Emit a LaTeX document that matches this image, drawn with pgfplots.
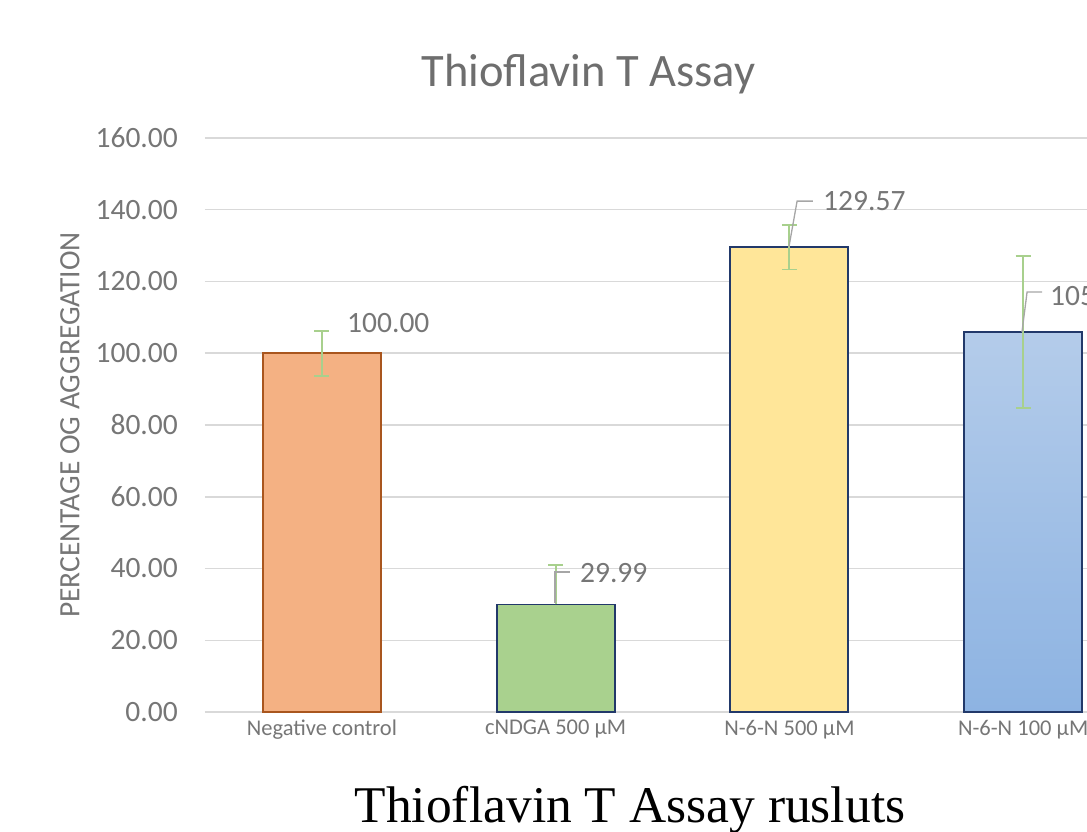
\documentclass[border=0pt]{standalone}
\usepackage{fontspec}
\setmainfont{Carlito}
\newfontfamily\capfont{Liberation Serif}
\usepackage{pgfplots}
\pgfplotsset{compat=1.18}
\definecolor{gridc}{HTML}{D9D9D9}
\definecolor{tickc}{HTML}{767676}
\definecolor{titlec}{HTML}{6E6E6E}
\definecolor{errg}{HTML}{A8D08D}
\definecolor{leadc}{HTML}{A6A6A6}
\definecolor{negfill}{HTML}{F4B183}
\definecolor{negedge}{HTML}{A9561E}
\definecolor{gfill}{HTML}{A9D18E}
\definecolor{yfill}{HTML}{FFE699}
\definecolor{btop}{HTML}{B4CCEA}
\definecolor{bbot}{HTML}{8DB3E2}
\definecolor{navy}{HTML}{22396A}
\begin{document}
\begin{tikzpicture}
\useasboundingbox (0,0) rectangle (1087pt,831pt);
\clip (0,0) rectangle (1087pt,831pt);
\begin{axis}[
  at={(205pt,119pt)}, anchor=south west,
  scale only axis, width=935pt, height=574pt,
  xmin=-0.5, xmax=3.5, ymin=0, ymax=160,
  ytick={0,20,...,160},
  xtick={0,1,2,3},
  xticklabels={Negative control, cNDGA 500 µM, N-6-N 500 µM, N-6-N 100 µM},
  axis line style={draw=none},
  major tick length=0pt,
  ymajorgrids, grid style={gridc, line width=1.5pt},
  /pgf/number format/.cd, fixed, fixed zerofill, precision=2, assume math mode=true,
  /pgfplots/.cd,
  yticklabel style={font=\fontsize{29.5}{33}\selectfont, text=tickc, anchor=east, inner sep=0pt, xshift=-27pt},
  xticklabel style={font=\fontsize{22.5}{26}\selectfont, text=tickc, anchor=north, inner sep=0pt, yshift=-8pt},
  ylabel={PERCENTAGE OG AGGREGATION},
  every axis y label/.style={at={(axis description cs:-0.1444,0.5)}, rotate=90, anchor=center, font=\fontsize{29.5}{33}\selectfont, text=tickc},
  bar width=118pt,
]
\addplot[ybar, bar shift=0pt, fill=negfill, draw=negedge, line width=1.8pt,
  error bars/.cd, y dir=both, y explicit,
  error bar style={errg, line width=1.8pt},
  error mark options={errg, line width=1.8pt, mark size=7.5pt, rotate=90}]
  coordinates {(0,100.00) +- (0,6.3)};
\addplot[ybar, bar shift=0pt, fill=gfill, draw=navy, line width=1.8pt,
  error bars/.cd, y dir=plus, y explicit,
  error bar style={errg, line width=1.8pt},
  error mark options={errg, line width=1.8pt, mark size=7.5pt, rotate=90}]
  coordinates {(1,29.99) +- (0,11.0)};
\addplot[ybar, bar shift=0pt, fill=yfill, draw=navy, line width=1.8pt,
  error bars/.cd, y dir=both, y explicit,
  error bar style={errg, line width=1.8pt},
  error mark options={errg, line width=1.8pt, mark size=7.5pt, rotate=90}]
  coordinates {(2,129.57) +- (0,6.2)};
\addplot[ybar, bar shift=0pt, top color=btop, bottom color=bbot, draw=navy, line width=1.8pt,
  error bars/.cd, y dir=both, y explicit,
  error bar style={errg, line width=1.8pt},
  error mark options={errg, line width=1.8pt, mark size=7.5pt, rotate=90}]
  coordinates {(3,105.92) +- (0,21.1)};
% leader lines
\draw[leadc, line width=1.3pt] (axis cs:0.997,30.4) -- (axis cs:0.997,39.0) -- (axis cs:1.061,39.0);
\draw[leadc, line width=1.3pt] (axis cs:1.998,129.6) -- (axis cs:2.033,142.4) -- (axis cs:2.100,142.4);
\draw[leadc, line width=1.3pt] (axis cs:2.995,105.9) -- (axis cs:3.017,117.1) -- (axis cs:3.081,117.1);
% data labels
\node[anchor=west, inner sep=0pt, font=\fontsize{29.5}{33}\selectfont, text=tickc] at (axis cs:0.1075,108.4) {100.00};
\node[anchor=west, inner sep=0pt, font=\fontsize{29.5}{33}\selectfont, text=tickc] at (axis cs:1.104,38.7) {29.99};
\node[anchor=west, inner sep=0pt, font=\fontsize{29.5}{33}\selectfont, text=tickc] at (axis cs:2.144,142.4) {129.57};
\node[anchor=west, inner sep=0pt, font=\fontsize{29.5}{33}\selectfont, text=tickc] at (axis cs:3.115,116.0) {105.92};
\end{axis}
\node[anchor=base, inner sep=0pt, font=\fontsize{46.5}{50}\selectfont, text=titlec] at (588.5pt,744pt) {Thioflavin T Assay};
\node[anchor=base, inner sep=0pt, font=\capfont\fontsize{51.5}{55}\selectfont, text=black] at (630pt,9pt) {Thioflavin T Assay rusluts};
\end{tikzpicture}
\end{document}
